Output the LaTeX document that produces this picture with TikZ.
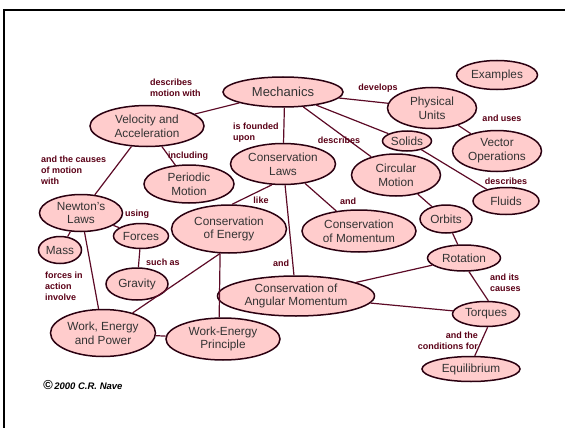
\documentclass[tikz,border=0pt]{standalone}
\usepackage{fontspec}
\setmainfont{Liberation Sans}
\usetikzlibrary{shapes.geometric}

\definecolor{nodefill}{HTML}{FFCCCC}
\definecolor{nodeline}{HTML}{2A0010}
\definecolor{linkline}{HTML}{5C0A26}
\definecolor{linktext}{HTML}{5A0016}
\definecolor{nodetext}{HTML}{333333}

\begin{document}
\begin{tikzpicture}[x=1pt, y=-1pt,
    concept/.style={ellipse, draw=nodeline, fill=nodefill, line width=1.5pt, inner xsep=0pt, inner ysep=-6pt, text=nodetext, align=center, font=\fontsize{11.8}{13.8}\selectfont},
    dims/.style 2 args={minimum width=#1, minimum height=#2},
    link/.style={text=linktext, font=\bfseries\fontsize{9}{11}\selectfont, align=left, inner sep=0pt},
    wire/.style={draw=linkline, line width=1.2pt}
]
\useasboundingbox (0,0) rectangle (565,428);
\draw[line width=2pt] (4,430) -- (4,10) -- (567,10);

% concepts
\node[concept, dims={120pt}{30pt}, font=\fontsize{13}{15}\selectfont] (mech) at (283,92) {Mechanics};
\node[concept, dims={114pt}{41pt}] (velocity) at (147,126) {Velocity and\\Acceleration};
\node[concept, dims={90pt}{38pt}] (periodic) at (189,184) {Periodic\\Motion};
\node[concept, dims={105pt}{41pt}] (claws) at (283,164) {Conservation\\Laws};
\node[concept, dims={83pt}{37pt}] (newton) at (81,213) {Newton's\\Laws};
\node[concept, dims={43pt}{27pt}] (mass) at (60,250) {Mass};
\node[concept, dims={55pt}{25pt}] (forces) at (141,236) {Forces};
\node[concept, dims={62pt}{32pt}] (gravity) at (137,284) {Gravity};
\node[concept, dims={115pt}{48pt}] (energy) at (229,229) {Conservation\\of Energy};
\node[concept, dims={114pt}{42pt}] (momentum) at (359,231) {Conservation\\of Momentum};
\node[concept, dims={157pt}{40pt}] (angular) at (296,296) {Conservation of\\Angular Momentum};
\node[concept, dims={105pt}{47pt}] (wep) at (103,333) {Work, Energy\\and Power};
\node[concept, dims={114pt}{42pt}] (weprin) at (223,339) {Work-Energy\\Principle};
\node[concept, dims={89pt}{41pt}] (units) at (432,108) {Physical\\Units};
\node[concept, dims={81pt}{29pt}] (examples) at (497,75) {Examples};
\node[concept, dims={49pt}{20pt}] (solids) at (407,141) {Solids};
\node[concept, dims={89pt}{41pt}] (vector) at (497,151) {Vector\\Operations};
\node[concept, dims={89pt}{42pt}] (circular) at (396,175) {Circular\\Motion};
\node[concept, dims={66pt}{27pt}] (fluids) at (506,201) {Fluids};
\node[concept, dims={52pt}{28pt}] (orbits) at (446,219) {Orbits};
\node[concept, dims={73pt}{26pt}] (rotation) at (464,258) {Rotation};
\node[concept, dims={67pt}{25pt}] (torques) at (486,314) {Torques};
\node[concept, dims={98pt}{25pt}] (equil) at (471,369) {Equilibrium};

% links
\draw[wire] (mech) -- (velocity);
\draw[wire] (mech.-85) -- (claws);
\draw[wire] (mech) -- (units);
\draw[wire] (mech) -- (solids);
\draw[wire] (mech) -- (circular);
\draw[wire] (units) -- (vector);
\draw[wire] (solids) -- (fluids);
\draw[wire] (velocity) -- (newton);
\draw[wire] (velocity) -- (periodic);
\draw[wire] (claws.242) -- (energy.83);
\draw[wire] (claws) -- (momentum);
\draw[wire] (claws) -- (angular);
\draw[wire] (newton) -- (forces);
\draw[wire] (newton) -- (mass);
\draw[wire] (newton) -- (wep);
\draw[wire] (forces) -- (gravity);
\draw[wire] (energy.250) -- (wep);
\draw[wire] (energy.250) -- (weprin.100);
\draw[wire] (wep) -- (weprin);
\draw[wire] (circular) -- (orbits);
\draw[wire] (orbits) -- (rotation);
\draw[wire] (rotation) -- (angular);
\draw[wire] (angular) -- (torques);
\draw[wire] (rotation.-70) -- (torques.80);
\draw[wire] (torques.-83) -- (equil.74);

% link labels
\node[link, anchor=west] (lmotion) at (150,88) {describes\\motion with};
\node[link, anchor=west] (lfounded) at (233,133) {is founded\\upon};
\node[link] (ldevelops) at (378,88) {develops};
\node[link] (ldescribes) at (339,140) {describes};
\node[link] (luses) at (502,118) {and uses};
\node[link] (lfluids) at (506,181) {describes};
\node[link, anchor=west] (lcauses) at (41,170) {and the causes\\of motion\\with};
\node[link] (lincluding) at (188,156) {including};
\node[link] (llike) at (261,200) {like};
\node[link] (landmom) at (348,201) {and};
\node[link] (landang) at (281,263) {and};
\node[link] (lusing) at (137,214) {using};
\node[link] (lsuch) at (163,262) {such as};
\node[link, anchor=west] (linvolve) at (45,286) {forces in\\action\\involve};
\node[link, anchor=west] (litscauses) at (490,283) {and its\\causes};
\node[link, anchor=east, align=right] (lconditions) at (478,341) {and the\\conditions for};

\node[anchor=west, inner sep=0pt, font=\bfseries\itshape\fontsize{9.5}{11}\selectfont] (copyright) at (43,385) {{\fontsize{13}{13}\selectfont\textcopyright}\,2000 C.R. Nave};
\end{tikzpicture}
\end{document}
